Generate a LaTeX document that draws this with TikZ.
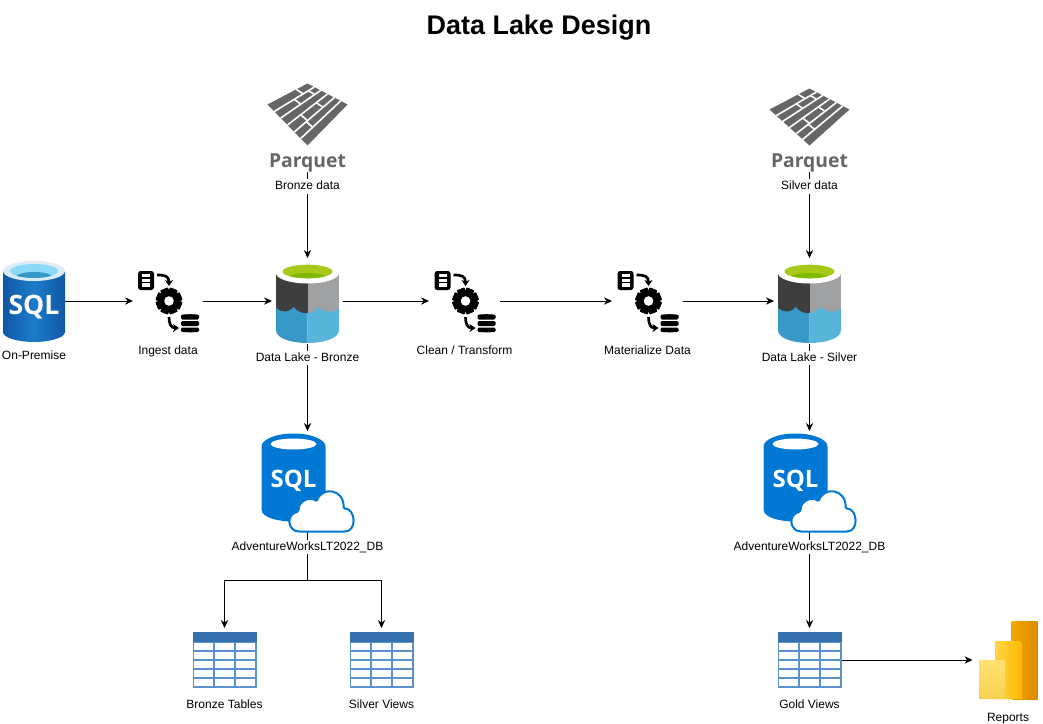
\documentclass[tikz,border=0pt]{standalone}
\usepackage{fontspec}
\setmainfont{Liberation Sans}
\newfontfamily\logofont{Open Sans}
\definecolor{ParquetGrey}{RGB}{102, 102, 102}
\definecolor{SqlBlue}{RGB}{0, 120, 212}
\definecolor{SqlEdge}{RGB}{15, 88, 165}
\definecolor{SqlMid}{RGB}{28, 124, 200}
\definecolor{LakeDark}{RGB}{62, 62, 62}
\definecolor{LakeGrey}{RGB}{160, 161, 162}
\definecolor{WaterDark}{RGB}{57, 153, 198}
\definecolor{WaterLight}{RGB}{89, 180, 217}
\definecolor{LakeGreen}{RGB}{168, 200, 26}
\definecolor{LakeGreenDark}{RGB}{127, 186, 0}
\definecolor{TableHead}{RGB}{54, 112, 176}
\definecolor{TableLine}{RGB}{91, 146, 205}
\definecolor{BarBackL}{RGB}{242, 168, 0}
\definecolor{BarBackR}{RGB}{222, 136, 0}
\definecolor{BarMidL}{RGB}{255, 212, 70}
\definecolor{BarMidR}{RGB}{255, 185, 0}
\definecolor{BarFrontT}{RGB}{255, 226, 115}
\definecolor{BarFrontB}{RGB}{248, 208, 80}
\usetikzlibrary{arrows.meta, positioning, calc}
\tikzset{
	pics/parquet/.style={code={
		\coordinate (L) at (-40,#1+21);
		\coordinate (T) at (0,#1);
		\coordinate (R) at (40,#1+21);
		\coordinate (B) at (0,18);
		\fill[ParquetGrey] (L) -- (T) -- (R) -- (B) -- cycle;
		\foreach \v in {0.17,0.33,0.5,0.67,0.83}
			\draw[white, line width=1.2pt] ($(L)!\v!(B)$) -- ($(T)!\v!(R)$);
		\foreach \v/\u in {0.085/0.72,0.25/0.5,0.25/0.85,0.585/0.33,0.585/0.72,0.75/0.3}
			\draw[white, line width=1.2pt] ($($(L)!\v-0.08!(B)$)!\u!($(T)!\v-0.08!(R)$)$) -- ($($(L)!\v+0.08!(B)$)!\u!($(T)!\v+0.08!(R)$)$);
		\node[font=\logofont\bfseries\fontsize{14.5}{14.5}\selectfont, text=ParquetGrey, inner sep=0pt] at (0,35) {Parquet};
	}},
	pics/pipeline/.style={code={
		\fill[black, rounded corners=2pt] (-30,-30) rectangle (-14,-11);
		\foreach \r in {-27,-22.3,-17.6}
			\fill[white] (-26,\r) rectangle (-18,\r+3.3);
		\draw[line width=2pt, -{Stealth[length=4.5pt, width=6pt]}] (-11,-26) .. controls (-3,-26) and (1,-25) .. (1,-15);
		\draw[line width=2pt, -{Stealth[length=4.5pt, width=6pt]}] (1,16) .. controls (1,23) and (3,27) .. (11,27);
		\foreach \a in {0,45,...,315}
			\fill[rotate around={\a+22.5:(1,0)}, rounded corners=0.5pt] (-3,-13) rectangle (5,13);
		\fill (1,0) circle (10);
		\fill[white] (1,0) circle (4.8);
		\fill[rounded corners=1pt] (13,13.5) rectangle (31,18.5) (13,20) rectangle (31,25) (13,26.5) rectangle (31,31);
		\fill (22,15) ellipse (9 and 1.8) (22,29.5) ellipse (9 and 1.8);
	}},
	pics/lake/.style={code={
		\fill[LakeDark] (-31.5,-29) rectangle (0,12);
		\fill[LakeGrey] (0,-29) rectangle (31.5,12);
		\fill[WaterDark] (-31.5,7) .. controls (-25,12) and (-19,12) .. (-14,6) .. controls (-10,11) and (-4,13) .. (0,12) -- (0,42) .. controls (-15,42) and (-31.5,38) .. (-31.5,29) -- cycle;
		\fill[WaterLight] (0,12) .. controls (5,12) and (8,9) .. (11,6) .. controls (16,11) and (26,13) .. (31.5,7) -- (31.5,29) .. controls (31.5,38) and (15,42) .. (0,42) -- cycle;
		\fill[white] (0,-28) ellipse (31.5 and 10.5);
		\fill[LakeGreen] (0,-29.5) ellipse (25 and 6.8);
		\begin{scope}
			\clip (0,-29.5) ellipse (25 and 6.8);
			\fill[LakeGreenDark] (0,-23) ellipse (19 and 5);
		\end{scope}
	}},
	pics/onpremsql/.style={code={
		\path[left color=SqlEdge, right color=SqlEdge, middle color=SqlMid] (-31,-30) -- (31,-30) -- (31,31) .. controls (31,37) and (15,41) .. (0,41) .. controls (-15,41) and (-31,37) .. (-31,31) -- cycle;
		\fill[white!85!SqlMid] (0,-30) ellipse (31 and 10);
		\fill[cyan!45!white] (0,-30) ellipse (24 and 7);
		\begin{scope}
			\clip (0,-30) ellipse (24 and 7);
			\fill[WaterDark] (0,-24) ellipse (18 and 5);
		\end{scope}
		\node[font=\logofont\bfseries\fontsize{20}{20}\selectfont, text=white, inner sep=0pt] at (0,6) {SQL};
	}},
	pics/clouddb/.style={code={
		\fill[SqlBlue] (-46,-35) .. controls (-46,-42) and (-32,-48) .. (-14,-48) .. controls (4,-48) and (18,-42) .. (18,-35) -- (18,28) .. controls (18,36) and (2,40) .. (-14,40) .. controls (-30,40) and (-46,36) .. (-46,28) -- cycle;
		\fill[white] (-14,-37.5) ellipse (23 and 5.5);
		\node[font=\logofont\bfseries\fontsize{18}{18}\selectfont, text=white, inner sep=0pt] at (-14,-1) {SQL};
		\draw[SqlBlue, line width=1.5pt, fill=white, rounded corners=1pt] (-7,50) .. controls (-20,50) and (-22,33) .. (-9,30) .. controls (-9,18) and (4,15) .. (9,20) .. controls (15,4) and (37,8) .. (36,27) .. controls (48,27) and (50,50) .. (36,50) -- cycle;
	}},
	pics/datatable/.style={code={
		\fill[TableLine] (-32,-28) rectangle (32,28);
		\fill[TableHead] (-32,-28) rectangle (32,-18);
		\foreach \r in {0,...,4}
			\foreach \c in {0,1,2}
				\fill[white] (-30.5+\c*21,-17.3+\r*9) rectangle (-11.2+\c*21,-10+\r*9);
	}},
	pics/powerbi/.style={code={
		\path[left color=BarBackL, right color=BarBackR] (6.7,-39) rectangle (32.7,39);
		\path[left color=BarMidL, right color=BarMidR, rounded corners=2pt] (-10,39) [sharp corners] -- (-10,-19) [rounded corners=2pt] -- (16.7,-19) [sharp corners] -- (16.7,39) -- cycle;
		\path[top color=BarFrontT, bottom color=BarFrontB] (-26,39) [sharp corners] -- (-26,0) [rounded corners=2pt] -- (0,0) [sharp corners] -- (0,39) -- cycle;
	}}
}
\begin{document}
\begin{tikzpicture}[
	x=0.75pt, y=-0.75pt,
	iconbox/.style={inner sep=0pt, outer sep=0pt},
	iconcap/.style={fill=white, inner sep=1pt, font=\fontsize{9}{9}\selectfont, text height=7pt, text depth=2pt},
	flow/.style={line width=0.75pt, -{Stealth[length=6pt, width=5.5pt]}},
	>=Stealth]
	\fill[white] (0,0) rectangle (1043,724);
	\useasboundingbox (0,0) rectangle (1043,724);
	\node[font=\bfseries\fontsize{20.2}{20.2}\selectfont, inner sep=0pt] (title) at (539,28) {Data Lake Design};
	\node[iconbox, minimum width=46.5pt, minimum height=63pt] (onprem) at (34,301) {};
	\node[iconbox, minimum width=52.5pt, minimum height=46.5pt, right=51pt of onprem] (ingest) {};
	\node[iconbox, minimum width=53.25pt, minimum height=64.5pt, right=51.75pt of ingest] (lakeB) {};
	\node[iconbox, minimum width=53.25pt, minimum height=46.5pt, right=64.5pt of lakeB] (clean) {};
	\node[iconbox, minimum width=53.25pt, minimum height=46.5pt, right=84pt of clean] (mater) {};
	\node[iconbox, minimum width=53.25pt, minimum height=64.5pt, right=68.25pt of mater] (lakeS) {};
	\node[iconbox, minimum width=60pt, minimum height=66.75pt, above=64.5pt of lakeB] (parqB) {};
	\node[iconbox, minimum width=60pt, minimum height=66.75pt, above=64.5pt of lakeS] (parqS) {};
	\node[iconbox, minimum width=69pt, minimum height=75.75pt, below=65.25pt of lakeB] (dbB) {};
	\node[iconbox, minimum width=69pt, minimum height=75.75pt, below=65.25pt of lakeS] (dbS) {};
	\coordinate[below=36pt of dbB] (fork);
	\node[iconbox, minimum width=48pt, minimum height=48pt, below=36pt of fork, xshift=-62.25pt] (tabB) {};
	\node[iconbox, minimum width=48pt, minimum height=48pt, below=36pt of fork, xshift=55.5pt] (tabS) {};
	\node[iconbox, minimum width=48pt, minimum height=48pt, below=72pt of dbS] (tabG) {};
	\node[iconbox, minimum width=48.75pt, minimum height=58.5pt, right=98.25pt of tabG] (rep) {};
	\draw[flow] (onprem)--(ingest); \draw[flow] (ingest)--(lakeB); \draw[flow] (lakeB)--(clean); \draw[flow] (clean)--(mater); \draw[flow] (mater)--(lakeS);
	\draw[flow] (parqB)--(lakeB); \draw[flow] (parqS)--(lakeS); \draw[flow] (lakeB)--(dbB); \draw[flow] (lakeS)--(dbS);
	\draw[flow] (dbB.south)--(fork)-|(tabB); \draw[flow] (fork)-|(tabS);
	\draw[flow] (dbS)--(tabG); \draw[flow] (tabG)--(rep);
	\pic at (onprem) {onpremsql};
	\pic at (ingest) {pipeline};
	\pic at (clean) {pipeline};
	\pic at (mater) {pipeline};
	\pic at (lakeB) {lake};
	\pic at (lakeS) {lake};
	\pic at (parqB) {parquet=-44};
	\pic at (parqS) {parquet=-39};
	\pic at (dbB) {clouddb};
	\pic at (dbS) {clouddb};
	\pic at (tabB) {datatable};
	\pic at (tabS) {datatable};
	\pic at (tabG) {datatable};
	\pic at (rep) {powerbi};
	\node[iconcap, below=4.5pt of onprem] (onpremcap) {On-Premise};
	\node[iconcap, below=8.5pt of ingest] (ingestcap) {Ingest data};
	\node[iconcap, below=4.75pt of lakeB] (lakeBcap) {Data Lake - Bronze};
	\node[iconcap, below=8.5pt of clean] (cleancap) {Clean / Transform};
	\node[iconcap, below=8.5pt of mater] (matercap) {Materialize Data};
	\node[iconcap, below=4.75pt of lakeS] (lakeScap) {Data Lake - Silver};
	\node[iconcap, below=5.25pt of parqB] (parqBcap) {Bronze data};
	\node[iconcap, below=5.25pt of parqS] (parqScap) {Silver data};
	\node[iconcap, below=5.5pt of dbB] (dbBcap) {AdventureWorksLT2022\_DB};
	\node[iconcap, below=5.5pt of dbS] (dbScap) {AdventureWorksLT2022\_DB};
	\node[iconcap, below=4.25pt of tabB] (tabBcap) {Bronze Tables};
	\node[iconcap, below=4.25pt of tabS] (tabScap) {Silver Views};
	\node[iconcap, below=4.25pt of tabG] (tabGcap) {Gold Views};
	\node[iconcap, below=8.5pt of rep, xshift=2.25pt] (repcap) {Reports};
\end{tikzpicture}
\end{document}
